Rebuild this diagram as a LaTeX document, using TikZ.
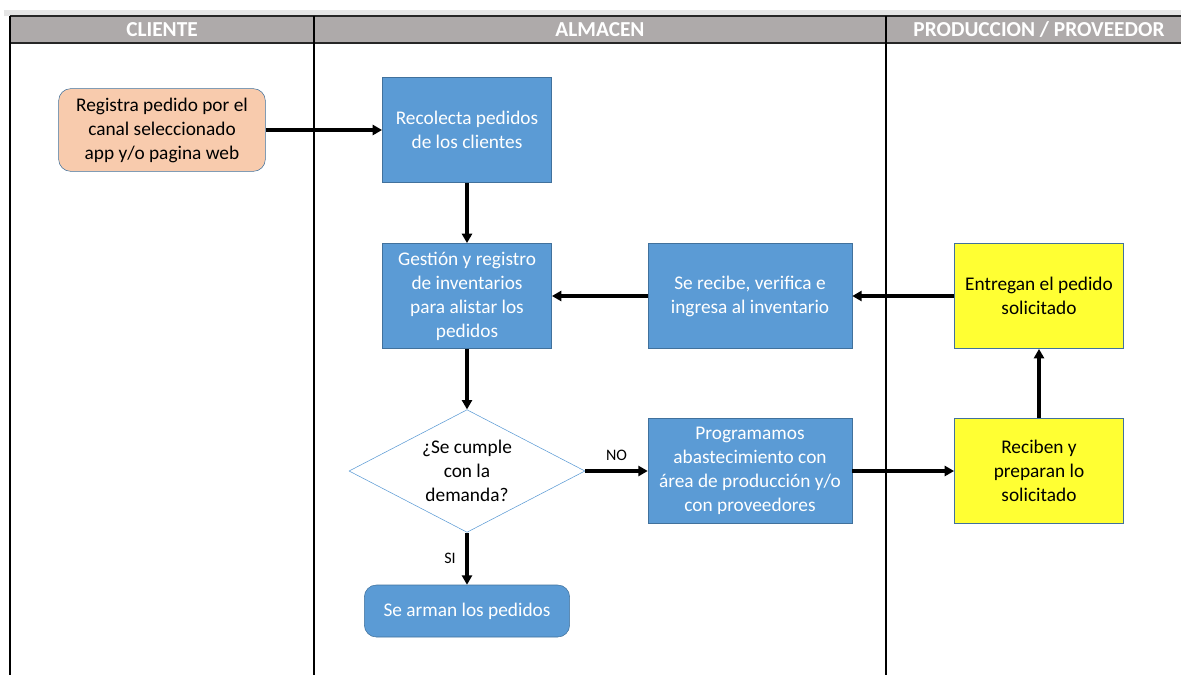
\documentclass[tikz,border=0pt]{standalone}
\usepackage{fontspec}
\setmainfont{Carlito}
\usetikzlibrary{shapes.geometric,arrows.meta}

\definecolor{azul}{HTML}{5B9BD5}
\definecolor{azulborde}{HTML}{41719C}
\definecolor{durazno}{HTML}{F8CBAD}
\definecolor{amarillo}{HTML}{FFFF33}
\definecolor{gris}{HTML}{AEAAAA}

\tikzset{
  proceso/.style={rectangle,draw=azulborde,fill=azul,text=white,align=center,
    font=\fontsize{14.5}{18}\selectfont,inner sep=2pt},
  cliente/.style={rectangle,rounded corners=9pt,draw=azulborde,fill=durazno,align=center,
    font=\fontsize{14.5}{18}\selectfont,inner sep=2pt,minimum width=155pt,minimum height=62pt},
  proveedor/.style={rectangle,draw=azulborde,fill=amarillo,align=center,
    font=\fontsize{14.5}{18}\selectfont,inner sep=2pt,minimum width=127pt,minimum height=79pt},
  decision/.style={diamond,draw=azul,fill=white,align=center,aspect=2,inner sep=0pt,
    font=\fontsize{14.5}{18}\selectfont,minimum width=177pt,minimum height=92pt},
  flecha/.style={line width=2.3pt,-{Triangle[length=7pt,width=7.5pt]}},
  etiqueta/.style={font=\fontsize{12}{14}\selectfont},
  carril/.style={line width=0.8pt},
  titulo/.style={text=white,font=\bfseries\fontsize{16}{18}\selectfont}
}

\begin{document}
\begin{tikzpicture}[x=0.75pt,y=-0.75pt]
\useasboundingbox (0,0) rectangle (1181,675);

% carriles
\fill[black!10] (4,10) rectangle (1181,16);
\fill[gris] (10,16) rectangle (1181,43);
\draw[line width=1.5pt,black!85] (10,16) -- (1181,16);
\draw[line width=1.5pt,black!85] (10,43) -- (1181,43);
\draw[carril] (10,16) -- (10,675);
\draw[carril] (314,16) -- (314,675);
\draw[carril] (886,16) -- (886,675);
\node[titulo] (tcli) at (162,29.5) {CLIENTE};
\node[titulo] (talm) at (600,29.5) {ALMACEN};
\node[titulo] (tpro) at (1039,29.5) {PRODUCCION / PROVEEDOR};

% nodos
\node[cliente] (registra) at (162,130) {Registra pedido por el\\canal seleccionado\\app y/o pagina web};
\node[proceso,minimum width=127pt,minimum height=79pt] (recolecta) at (467,130) {Recolecta pedidos\\de los clientes};
\node[proceso,minimum width=127pt,minimum height=79pt] (gestion) at (467,296) {Gestión y registro\\de inventarios\\para alistar los\\pedidos};
\node[proceso,minimum width=153pt,minimum height=79pt] (recibe) at (750,296) {Se recibe, verifica e\\ingresa al inventario};
\node[proveedor] (entregan) at (1039,296) {Entregan el pedido\\solicitado};
\node[decision] (cumple) at (467,471) {¿Se cumple\\con la\\demanda?};
\node[proceso,minimum width=153pt,minimum height=79pt] (programa) at (750,471) {Programamos\\abastecimiento con\\área de producción y/o\\con proveedores};
\node[proveedor] (reciben) at (1039,471) {Reciben y\\preparan lo\\solicitado};
\node[proceso,rounded corners=9pt,minimum width=154pt,minimum height=39pt] (arman) at (467,611) {Se arman los pedidos};

% flechas
\draw[flecha] (registra) -- (recolecta);
\draw[flecha] (recolecta) -- (gestion);
\draw[flecha] (recibe) -- (gestion);
\draw[flecha] (entregan) -- (recibe);
\draw[flecha] (gestion) -- (cumple);
\draw[flecha] (cumple) -- node[above=3pt,etiqueta] {NO} (programa);
\draw[flecha] (programa) -- (reciben);
\draw[flecha] (reciben) -- (entregan);
\draw[flecha] (cumple) -- node[left=4pt,etiqueta] {SI} (arman);
\end{tikzpicture}
\end{document}
